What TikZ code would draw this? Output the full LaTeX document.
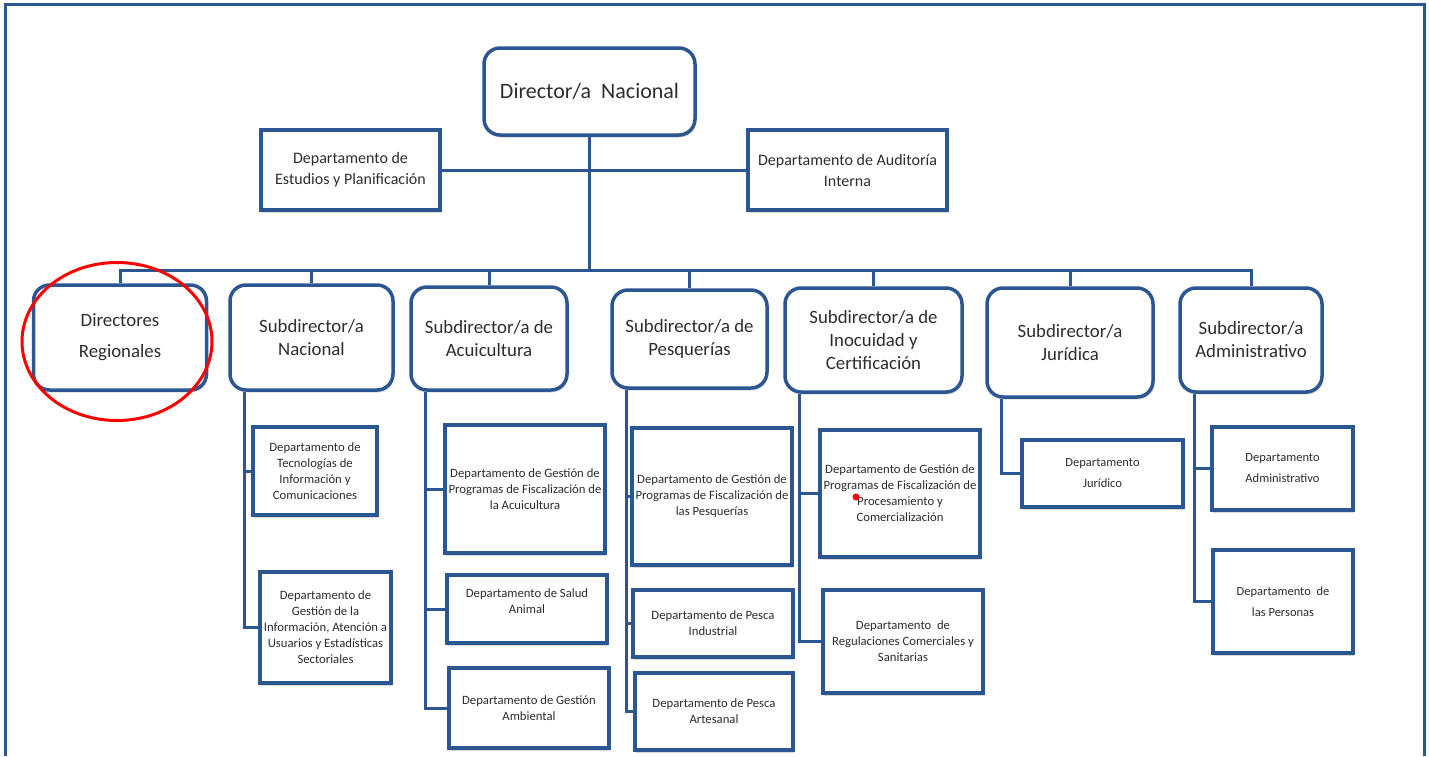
\documentclass[tikz,border=0pt]{standalone}
\usepackage{fontspec}
\setmainfont{Carlito}
\usepackage{xcolor}
\usepackage{tikz}
\usetikzlibrary{shadows,backgrounds}
\definecolor{orgblue}{RGB}{44,86,146}
\definecolor{orgtext}{RGB}{45,45,45}
\def\unit#1#2#3#4{\node [#2] (#1) at (#3) {#4}}
\tikzset{sz/.style 2 args={minimum width=#1,minimum height=#2}}
\tikzstyle{basebox}=[draw=orgblue,line width=3.5pt,fill=white,align=center,text=orgtext,inner sep=1pt,
  drop shadow={shadow xshift=1pt,shadow yshift=-2.5pt,opacity=.3}]
\tikzstyle{dirbox}=[basebox,rounded corners=16pt,font=\fontsize{22}{26}\selectfont]
\tikzstyle{subbox}=[basebox,rounded corners=16pt,font=\fontsize{18.8}{23}\selectfont]
\tikzstyle{staffbox}=[basebox,font=\fontsize{16}{21}\selectfont]
\tikzstyle{deptbox}=[basebox,font=\fontsize{12.7}{16}\selectfont]
\tikzstyle{deptwide}=[basebox,font=\fontsize{12.5}{21}\selectfont]
\tikzstyle{link}=[draw=orgblue,line width=3pt]
\tikzstyle{frame}=[draw=orgblue,line width=3pt]
\tikzstyle{ring}=[draw=red,line width=3pt]

\begin{document}
\begin{tikzpicture}[x=1pt,y=-1pt]
    \useasboundingbox (0,0) rectangle (1429,756);
    \unit{dir}{dirbox,sz={211}{87}}{589.5,91.5}{Director/a\ \ Nacional};
    \unit{estud}{staffbox,sz={179}{80}}{350.5,170}{Departamento de\\Estudios y Planificación};
    \unit{audit}{staffbox,sz={199}{80}}{847.5,170}{Departamento de Auditoría\\Interna};
    \unit{dirreg}{subbox,sz={173}{105},font=\fontsize{18.8}{31}\selectfont}{120,337.5}{Directores\\Regionales};
    \unit{nac}{subbox,sz={163}{105}}{311.5,337.5}{Subdirector/a\\Nacional};
    \unit{acu}{subbox,sz={156}{103}}{489,338.5}{Subdirector/a de\\Acuicultura};
    \unit{pesq}{subbox,sz={155}{98}}{689.5,339}{Subdirector/a de\\Pesquerías};
    \unit{ino}{subbox,sz={177}{104}}{873.5,340}{Subdirector/a de\\Inocuidad y\\Certificación};
    \unit{jur}{subbox,sz={166}{109}}{1070,342.5}{Subdirector/a\\Jurídica};
    \unit{adm}{subbox,sz={142}{104}}{1251,340}{Subdirector/a\\Administrativo};
    \unit{tec}{deptbox,sz={124}{88}}{315,471}{Departamento de\\Tecnologías de\\Información y\\Comunicaciones};
    \unit{gin}{deptbox,sz={131}{111}}{325.5,627.5}{Departamento de\\Gestión de la\\Información, Atención a\\Usuarios y Estadísticas\\Sectoriales};
    \unit{gpa}{deptbox,sz={160}{128}}{525,489}{Departamento de Gestión de\\Programas de Fiscalización de\\la Acuicultura};
    \unit{sal}{deptbox,sz={160}{68}}{527,609}{Departamento de Salud\\Animal\\~};
    \unit{amb}{deptbox,sz={160}{80}}{529,708}{Departamento de Gestión\\Ambiental};
    \unit{gpp}{deptbox,sz={160}{137}}{712,496.5}{Departamento de Gestión de\\Programas de Fiscalización de\\las Pesquerías};
    \unit{pin}{deptbox,sz={160}{67}}{713,623.5}{Departamento de Pesca\\Industrial};
    \unit{par}{deptbox,sz={158}{77}}{714,711.5}{Departamento de Pesca\\Artesanal};
    \unit{gpc}{deptbox,sz={160}{127}}{900,493.5}{Departamento de Gestión de\\Programas de Fiscalización de\\Procesamiento y\\Comercialización};
    \unit{reg}{deptbox,sz={160}{103}}{903,641.5}{Departamento\ \ de\\Regulaciones Comerciales y\\Sanitarias};
    \unit{djur}{deptwide,sz={161}{67}}{1102.5,473.5}{Departamento\\Jurídico};
    \unit{dadm}{deptwide,sz={141}{83}}{1282.5,468.5}{Departamento\\Administrativo};
    \unit{dper}{deptwide,sz={140}{103}}{1283,601.5}{Departamento\ \ de\\las Personas};
    \coordinate (bus) at (0,270);
    \begin{scope}[on background layer]
      \fill[white] (0,0) rectangle (1429,756);
      \draw[link] (dir.south) -- (dir.south |- bus);
      \draw[link] (estud.east) -- (audit.west);
      \foreach \s in {dirreg,nac,acu,pesq,ino,jur,adm}
        \draw[link] (dir.south |- bus) -| (\s.north);
      \foreach \s/\d in {nac/tec,nac/gin,acu/gpa,acu/sal,acu/amb,pesq/gpp,pesq/pin,pesq/par,ino/gpc,ino/reg,jur/djur,adm/dadm,adm/dper}
        \draw[link] ([xshift=16pt]\s.south west) |- (\d.west);
    \end{scope}
    \draw[ring] ([shift={(-3,4)}]dirreg.center) ellipse [x radius=95,y radius=79];
    \fill[red] (856,497) circle (3.5);
    \draw[frame] (5,756) -- (5,4) -- (1424,4) -- (1424,756);
\end{tikzpicture}
\end{document}
